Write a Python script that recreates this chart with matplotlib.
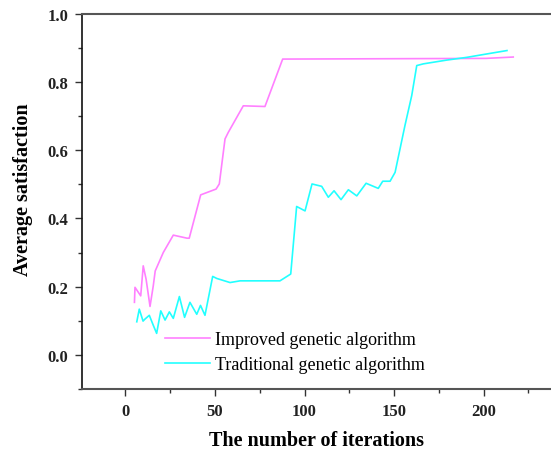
import matplotlib
matplotlib.use("Agg")
import matplotlib.pyplot as plt
from matplotlib.ticker import MultipleLocator

# Data
improved_x = [5.0, 5.3, 8.5, 9.9, 11.5, 13.7, 15.5, 16.6, 21.1, 26.7, 34.4, 35.6,
              42.0, 50.6, 52.4, 55.6, 57.4, 65.8, 77.9, 87.8, 201.4, 216.6]
improved_y = [0.154, 0.198, 0.173, 0.261, 0.222, 0.142, 0.202, 0.246, 0.300, 0.351, 0.342, 0.342,
              0.469, 0.486, 0.501, 0.633, 0.652, 0.730, 0.728, 0.867, 0.869, 0.873]

traditional_x = [6.3, 7.7, 9.8, 10.9, 13.3, 15.5, 17.4, 19.7, 22.1, 24.5, 26.7, 30.1,
                 33.0, 36.0, 39.8, 41.9, 44.4, 48.7, 51.0, 58.4, 64.0, 86.3, 92.3, 95.6,
                 100.3, 104.2, 109.6, 113.3, 116.5, 120.4, 124.5, 129.2, 134.4, 141.2,
                 143.7, 147.8, 150.6, 156.1, 159.9, 162.7, 166.4, 179.4, 190.6, 201.8, 213.1]
traditional_y = [0.097, 0.134, 0.099, 0.105, 0.116, 0.087, 0.063, 0.129, 0.102, 0.126, 0.107, 0.171,
                 0.110, 0.154, 0.119, 0.145, 0.116, 0.230, 0.224, 0.212, 0.217, 0.217, 0.237, 0.435,
                 0.422, 0.501, 0.494, 0.462, 0.481, 0.455, 0.484, 0.466, 0.503, 0.488,
                 0.509, 0.509, 0.535, 0.672, 0.760, 0.848, 0.853, 0.864, 0.872, 0.882, 0.892]

labels = ["Improved genetic algorithm", "Traditional genetic algorithm"]
x_ticks = [0, 50, 100, 150, 200]
y_ticks = [0.0, 0.2, 0.4, 0.6, 0.8, 1.0]

plt.rcParams['font.family'] = ['Liberation Serif', 'DejaVu Serif']

W, H = 551, 452
fig = plt.figure(figsize=(W / 100, H / 100), dpi=100)
left_px, top_px, bottom_px = 82, 14.7, 390
ax = fig.add_axes([left_px / W, 1 - bottom_px / H, 1 - left_px / W, (bottom_px - top_px) / H])

ax.plot(improved_x, improved_y, color='#ff80ff', lw=1.2, label=labels[0])
ax.plot(traditional_x, traditional_y, color='#22ffff', lw=1.2, label=labels[1])

ax.set_xlim(-24.3, 237.7)
ax.set_ylim(-0.1, 1.0)

ax.set_xticks(x_ticks)
ax.set_yticks(y_ticks)
ax.set_yticklabels([f"{v:.1f}" for v in y_ticks])
ax.xaxis.set_minor_locator(MultipleLocator(25))
ax.yaxis.set_minor_locator(MultipleLocator(0.1))
ax.tick_params(which='major', direction='out', length=5, width=1, colors='#333333', labelsize=12, pad=5)
ax.tick_params(which='minor', direction='out', length=3, width=1, colors='#333333')
for lab in ax.get_xticklabels() + ax.get_yticklabels():
    lab.set_fontweight('bold')
    lab.set_color('#222222')

ax.spines['right'].set_visible(False)
ax.spines['top'].set_color('#555555')
ax.spines['top'].set_linewidth(1.5)
ax.spines['bottom'].set_color('#555555')
ax.spines['bottom'].set_linewidth(1.5)
ax.spines['left'].set_color('#111111')
ax.spines['left'].set_linewidth(1.2)

ax.set_xlabel("The number of iterations", fontsize=14.5, fontweight='bold', labelpad=8)
ax.set_ylabel("Average satisfaction", fontsize=14.5, fontweight='bold')
ax.yaxis.set_label_coords(-0.105, 0.535)

fig.legend(loc='upper left', bbox_to_anchor=(165 / W, 1 - 332 / H), frameon=False,
           fontsize=13, handlelength=2.5, handletextpad=0.25, labelspacing=0.45,
           borderpad=0, borderaxespad=0)

fig.savefig("out.png", dpi=100)
